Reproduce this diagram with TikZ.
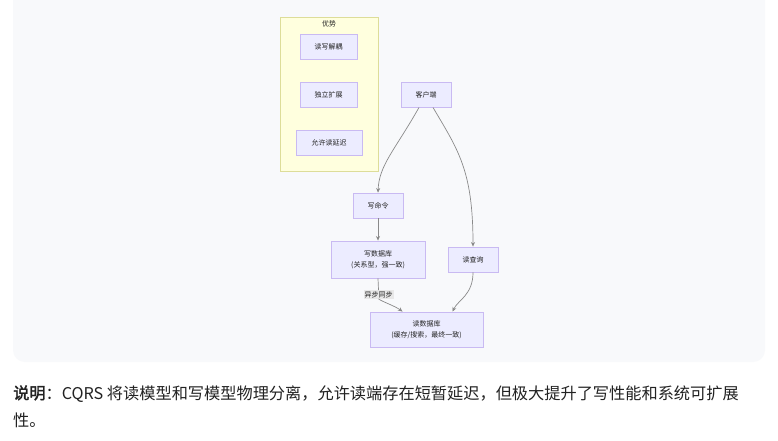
\documentclass[tikz,border=0pt]{standalone}
\usepackage{fontspec}
\newfontfamily\cjk{Noto Sans CJK SC}
\newfontfamily\cjkb{Noto Sans CJK SC}[FakeBold=2]
\usetikzlibrary{arrows.meta}
\definecolor{panel}{HTML}{F8F9FB}
\definecolor{nodefill}{HTML}{ECECFF}
\definecolor{nodeline}{HTML}{C9BAF2}
\definecolor{clusterfill}{HTML}{FFFFDE}
\definecolor{clusterline}{HTML}{DDDD99}
\definecolor{edgecol}{HTML}{8A8A8A}
\definecolor{labelbg}{HTML}{E8E8E8}
\definecolor{txt}{HTML}{222222}
\tikzset{
  box/.style={draw=nodeline, line width=0.9pt, fill=nodefill, inner sep=0pt,
    font=\cjk\fontsize{7}{9}\selectfont, text=txt, align=center},
  edge/.style={draw=edgecol, line width=0.7pt, -{Stealth[length=4.5pt,width=4pt,fill=black!75]}},
  elabel/.style={fill=labelbg, inner sep=1pt, font=\cjk\fontsize{7}{8}\selectfont, text=txt}
}
\begin{document}
\begin{tikzpicture}[x=1pt,y=-1pt]
\useasboundingbox (0,0) rectangle (778,440);
\fill[white] (0,0) rectangle (778,440);
\begin{scope}
\clip (0,0) rectangle (778,440);
\fill[panel, rounded corners=12pt] (13,-30) rectangle (765,362);
\end{scope}
% cluster
\node[draw=clusterline, line width=1pt, fill=clusterfill, minimum width=98pt, minimum height=154pt, inner sep=0pt] (cluster) at (329,94) {};
\node[font=\cjk\fontsize{7}{8}\selectfont, text=txt, inner sep=0pt] (ctitle) at (329,23.5) {优势};
\node[box, minimum width=57pt, minimum height=25pt] (adv1) at (328.5,46.5) {读写解耦};
\node[box, minimum width=57pt, minimum height=25pt] (adv2) at (328.5,94.5) {独立扩展};
\node[box, minimum width=66pt, minimum height=25pt] (adv3) at (329,142.5) {允许读延迟};
% main flow
\node[box, minimum width=50pt, minimum height=25pt] (client) at (426,94.5) {客户端};
\node[box, minimum width=50pt, minimum height=25pt] (wcmd) at (378,205.5) {写命令};
\node[box, minimum width=94pt, minimum height=37pt] (wdb) at (378,259.5) {写数据库\\[2pt](关系型，强一致)};
\node[box, minimum width=50pt, minimum height=25pt] (rq) at (473,259.5) {读查询};
\node[box, minimum width=113pt, minimum height=35pt] (rdb) at (426.5,329.5) {读数据库\\[2pt](缓存/搜索，最终一致)};
\node[elabel] (sync) at (378.5,294.5) {异步同步};
% edges
\draw[edge] ([xshift=-7pt]client.south) .. controls (395,150) and (379,165) .. (wcmd.north);
\draw[edge] ([xshift=7pt]client.south) .. controls (458,150) and (473,170) .. (rq.north);
\draw[edge] (wcmd.south) -- (wdb.north);
\draw[draw=edgecol, line width=0.7pt] (wdb.south) -- (sync.north);
\draw[edge] (sync.south) .. controls (383,302) and (395,306) .. ([xshift=-24pt]rdb.north);
\draw[edge] (rq.south) .. controls (473,295) and (458,300) .. ([xshift=26pt]rdb.north);
% caption
\node[anchor=base west, inner sep=0pt, font=\fontsize{16.2}{20}\selectfont, text=txt] (cap1) at (13,399)
  {{\cjkb 说明}{\cjk ：CQRS 将读模型和写模型物理分离，允许读端存在短暂延迟，但极大提升了写性能和系统可扩展}};
\node[anchor=base west, inner sep=0pt, font=\fontsize{16.2}{20}\selectfont, text=txt] (cap2) at (13,426)
  {\cjk 性。};
\end{tikzpicture}
\end{document}
